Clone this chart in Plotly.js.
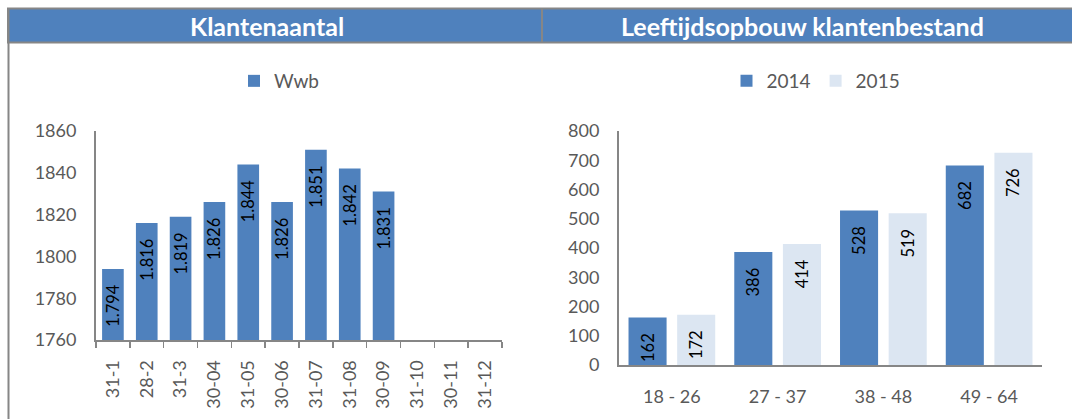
<!DOCTYPE html>
<html><head><meta charset="utf-8">
<script src="https://cdn.plot.ly/plotly-3.0.1.min.js"></script>
<style>html,body{margin:0;padding:0;background:#fff}#chart{width:1072px;height:419px}</style>
</head><body><div id="chart"></div>
<script>
const months = ['31-1','28-2','31-3','30-04','31-05','30-06','31-07','31-08','30-09','31-10','30-11','31-12'];
const wwb = [1794,1816,1819,1826,1844,1826,1851,1842,1831,null,null,null];
const ageGroups = ['18 - 26','27 - 37','38 - 48','49 - 64'];
const clients2014 = [162,386,528,682];
const clients2015 = [172,414,519,726];
const leftTitle = 'Klantenaantal';
const rightTitle = 'Leeftijdsopbouw klantenbestand';

const W = 1072, H = 419;
const px = x => x / W;
const py = y => 1 - y / H;
const PAD = '\u00a0\u00a0\u00a0';
const nl = v => v == null ? '' : String(v).replace(/\B(?=(\d{3})+(?!\d))/g, '.');
const FONT = 'Lato, "Open Sans", "Liberation Sans", sans-serif';
const BLUE = '#4f81bd', LIGHT = '#dce6f2', GREY = '#868686', TXT = '#595959';

const labelCommon = {
  textposition: 'inside', insidetextanchor: 'end', textangle: -90,
  constraintext: 'none', cliponaxis: true,
  insidetextfont: {family: FONT, size: 16.5, color: '#000'},
  hoverinfo: 'skip'
};

const traces = [
  Object.assign({
    type: 'bar', name: 'Wwb', x: months, y: wwb,
    text: wwb.map(v => v == null ? '' : nl(v) + PAD),
    marker: {color: BLUE, line: {width: 0}}, width: 0.64,
    xaxis: 'x', yaxis: 'y', legend: 'legend'
  }, labelCommon),
  Object.assign({
    type: 'bar', name: '2014', x: ageGroups, y: clients2014,
    text: clients2014.map(v => nl(v) + PAD),
    marker: {color: BLUE, line: {width: 0}}, width: 0.36, offset: -0.41,
    xaxis: 'x2', yaxis: 'y2', legend: 'legend2'
  }, labelCommon),
  Object.assign({
    type: 'bar', name: '2015', x: ageGroups, y: clients2015,
    text: clients2015.map(v => nl(v) + PAD),
    marker: {color: LIGHT, line: {width: 0}}, width: 0.36, offset: 0.05,
    xaxis: 'x2', yaxis: 'y2', legend: 'legend2'
  }, labelCommon)
];

const axisLine = {showline: true, linecolor: GREY, linewidth: 2, showgrid: false, zeroline: false,
  tickfont: {family: FONT, size: 18, color: TXT}};

const layout = {
  width: W, height: H, margin: {l: 0, r: 0, t: 0, b: 0},
  paper_bgcolor: '#fff', plot_bgcolor: 'rgba(0,0,0,0)',
  font: {family: FONT, color: TXT},
  barmode: 'group',
  showlegend: true,
  xaxis: Object.assign({}, axisLine, {domain: [px(96), px(502)], anchor: 'y', type: 'category',
    range: [-0.5, 11.5], tickangle: -90, ticks: 'outside', tickson: 'boundaries', ticklen: 6,
    tickwidth: 1.5, tickcolor: GREY, ticklabelstandoff: 11}),
  yaxis: Object.assign({}, axisLine, {domain: [py(340), py(131)], anchor: 'x',
    range: [1760, 1860], dtick: 20, ticks: '', ticklabelstandoff: 14}),
  xaxis2: Object.assign({}, axisLine, {domain: [px(619), px(1042)], anchor: 'y2', type: 'category',
    range: [-0.5, 3.5], ticks: '', ticklabelstandoff: 14}),
  yaxis2: Object.assign({}, axisLine, {domain: [py(365), py(131)], anchor: 'x2',
    range: [0, 800], dtick: 100, ticks: '', ticklabelstandoff: 14}),
  legend: {orientation: 'h', x: px(279), xanchor: 'center', y: py(81), yanchor: 'middle',
    font: {family: FONT, size: 19, color: TXT}, itemwidth: 30, bgcolor: 'rgba(0,0,0,0)'},
  legend2: {orientation: 'h', x: px(816), xanchor: 'center', y: py(81), yanchor: 'middle',
    font: {family: FONT, size: 19, color: TXT}, itemwidth: 30, bgcolor: 'rgba(0,0,0,0)'},
  shapes: [
    {type: 'rect', xref: 'paper', yref: 'paper', x0: px(8), x1: px(1073), y0: py(42.5), y1: py(8.5),
      fillcolor: BLUE, line: {color: GREY, width: 2}, layer: 'below'},
    {type: 'line', xref: 'paper', yref: 'paper', x0: px(542), x1: px(542), y0: py(42.5), y1: py(8.5),
      line: {color: GREY, width: 2}},
    {type: 'line', xref: 'paper', yref: 'paper', x0: px(8.5), x1: px(8.5), y0: py(420), y1: py(8.5),
      line: {color: GREY, width: 2}}
  ],
  annotations: [
    {xref: 'paper', yref: 'paper', x: px(267), y: py(26), xanchor: 'center', yanchor: 'middle',
      text: '<b>' + leftTitle + '</b>', showarrow: false, font: {family: FONT, size: 25, color: '#fff'}},
    {xref: 'paper', yref: 'paper', x: px(802), y: py(26), xanchor: 'center', yanchor: 'middle',
      text: '<b>' + rightTitle + '</b>', showarrow: false, font: {family: FONT, size: 25, color: '#fff'}}
  ]
};

Plotly.newPlot('chart', traces, layout, {displayModeBar: false, staticPlot: true});
</script>
</body></html>
